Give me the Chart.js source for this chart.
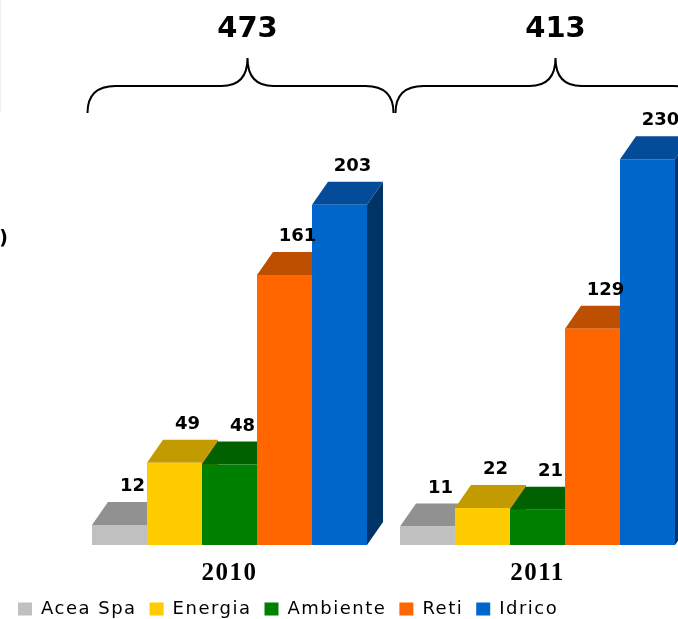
<!DOCTYPE html>
<html><head><meta charset="utf-8">
<script src="https://cdn.jsdelivr.net/npm/chart.js@4"></script>
<style>html,body{margin:0;padding:0;background:#fff;overflow:hidden;} canvas{display:block;}</style>
</head><body>
<canvas id="c" width="700" height="628" style="width:700px;height:628px"></canvas>
<script>
// ---- data ----
const categories = ['2010', '2011'];
const seriesNames = ['Acea Spa', 'Energia', 'Ambiente', 'Reti', 'Idrico'];
const aceaSpa  = [12, 11];
const energia  = [49, 22];
const ambiente = [48, 21];
const reti     = [161, 129];
const idrico   = [203, 230];
const yAxisUnit = '(€ mln)';

// ---- style ----
const frontColors = ['#C0C0C0', '#FFCC00', '#008000', '#FF6600', '#0066CC'];
const topColors   = ['#919191', '#C19B00', '#006100', '#BF4F00', '#044C99'];
const sideColors  = ['#707070', '#8A6F00', '#004000', '#8A3700', '#003366'];
const depthX = 16, depthY = 23;

const seriesValues = [aceaSpa, energia, ambiente, reti, idrico];

const threeD = {
  id: 'threeD',
  beforeLayout(chart) { chart.ctx.letterSpacing = '1.5px'; },
  beforeDraw(chart) { chart.ctx.letterSpacing = '1.5px'; },
  beforeDatasetsDraw(chart) {
    const ctx = chart.ctx;
    ctx.letterSpacing = '0px';
    ctx.save();
    for (let j = 0; j < chart.data.labels.length; j++) {
      chart.data.datasets.forEach((ds, i) => {
        const el = chart.getDatasetMeta(i).data[j];
        const {x, y, base, width} = el.getProps(['x', 'y', 'base', 'width'], true);
        const l = x - width / 2, r = x + width / 2;
        ctx.fillStyle = sideColors[i];
        ctx.beginPath();
        ctx.moveTo(r, y); ctx.lineTo(r + depthX, y - depthY);
        ctx.lineTo(r + depthX, base - depthY); ctx.lineTo(r, base);
        ctx.closePath(); ctx.fill();
        ctx.fillStyle = topColors[i];
        ctx.beginPath();
        ctx.moveTo(l, y); ctx.lineTo(r, y);
        ctx.lineTo(r + depthX, y - depthY); ctx.lineTo(l + depthX, y - depthY);
        ctx.closePath(); ctx.fill();
      });
    }
    ctx.restore();
  },
  afterDatasetsDraw(chart) {
    const ctx = chart.ctx;
    ctx.save();
    ctx.letterSpacing = '0px';
    ctx.fillStyle = '#000';
    ctx.textAlign = 'center';
    ctx.textBaseline = 'alphabetic';
    ctx.font = 'bold 18px "DejaVu Sans"';
    chart.data.datasets.forEach((ds, i) => {
      chart.getDatasetMeta(i).data.forEach((el, j) => {
        const {x, y} = el.getProps(['x', 'y'], true);
        ctx.fillText(String(ds.data[j]), x + 13, y - depthY - 11);
      });
    });
    // braces + totals
    const xs = chart.scales.x;
    const half = (xs.getPixelForValue(1) - xs.getPixelForValue(0)) / 2;
    ctx.strokeStyle = '#000';
    ctx.lineWidth = 2;
    for (let j = 0; j < chart.data.labels.length; j++) {
      const c = xs.getPixelForValue(j);
      const left = c - half + 12, right = c + half + 10, tip = c + 18;
      const endY = 113, flat = 86, tipY = 58, rr = 28, tr = 26;
      ctx.beginPath();
      ctx.moveTo(left, endY);
      ctx.quadraticCurveTo(left, flat, left + rr, flat);
      ctx.lineTo(tip - tr, flat);
      ctx.quadraticCurveTo(tip, flat, tip, tipY);
      ctx.quadraticCurveTo(tip, flat, tip + tr, flat);
      ctx.lineTo(right - rr, flat);
      ctx.quadraticCurveTo(right, flat, right, endY);
      ctx.stroke();
      const total = chart.data.datasets.reduce((s, ds) => s + ds.data[j], 0);
      ctx.font = 'bold 29px "DejaVu Sans"';
      ctx.fillText(String(total), tip, 37);
    }
    ctx.restore();
  },
  afterDraw(chart) {
    const ctx = chart.ctx;
    ctx.save();
    ctx.letterSpacing = '0px';
    ctx.fillStyle = '#f0f0f0';
    ctx.fillRect(0, 0, 1, 112);
    ctx.fillStyle = '#000';
    ctx.font = 'bold 19px "DejaVu Sans"';
    ctx.textAlign = 'right';
    ctx.textBaseline = 'alphabetic';
    ctx.fillText(yAxisUnit, 8, 244);
    ctx.restore();
  }
};

new Chart(document.getElementById('c'), {
  type: 'bar',
  data: {
    labels: categories,
    datasets: seriesValues.map((d, i) => ({
      label: seriesNames[i],
      data: d,
      backgroundColor: frontColors[i],
      borderWidth: 0
    }))
  },
  options: {
    responsive: false,
    animation: false,
    devicePixelRatio: 1,
    layout: { padding: { left: 5, right: 8.5, top: 42, bottom: 0 } },
    datasets: { bar: { categoryPercentage: 0.893, barPercentage: 1 } },
    plugins: {
      legend: {
        position: 'bottom', align: 'start',
        labels: { boxWidth: 14, boxHeight: 13, padding: 13, color: '#000',
                  font: { family: '"DejaVu Sans"', size: 18 } }
      },
      tooltip: { enabled: false }
    },
    scales: {
      x: {
        grid: { display: false, drawTicks: false },
        border: { display: false },
        ticks: { color: '#000', padding: 16.5,
                 font: { family: '"Liberation Serif"', weight: 'bold', size: 25, lineHeight: 1 } },
        afterFit(s) { s.height = 42; }
      },
      y: {
        min: 0, max: 300,
        grid: { display: false, drawTicks: false },
        border: { display: false },
        ticks: { display: false },
        afterFit(s) { s.width = 70.5; }
      }
    }
  },
  plugins: [threeD]
});
</script>
</body></html>
